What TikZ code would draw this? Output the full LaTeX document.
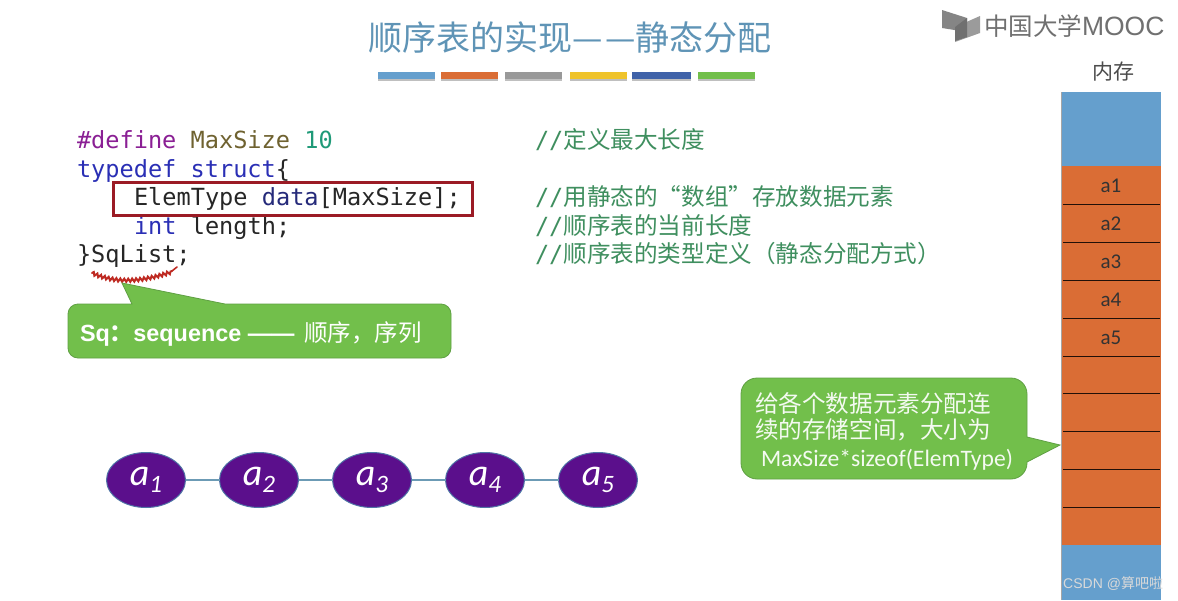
\documentclass[tikz,border=0pt]{standalone}
\usepackage{fontspec}
\usetikzlibrary{shapes.geometric,decorations.pathmorphing}
\setmainfont{Carlito}
\newfontfamily\cjk{Noto Sans CJK SC}
\newfontfamily\code{DejaVu Sans Mono}
\newfontfamily\arialb{Liberation Sans}
\definecolor{titlec}{HTML}{5F94B6}
\definecolor{memblue}{HTML}{659FCD}
\definecolor{memorange}{HTML}{DA6D35}
\definecolor{cgreen}{HTML}{72BF4B}
\definecolor{cgreenb}{HTML}{5FA043}
\definecolor{cmt}{HTML}{3F8F5F}
\definecolor{kwblue}{HTML}{2A2FB5}
\definecolor{kwpurple}{HTML}{8A1F94}
\definecolor{olive}{HTML}{6F6230}
\definecolor{num}{HTML}{1F9A78}
\definecolor{navy}{HTML}{252A7A}
\definecolor{boxred}{HTML}{9B1B25}
\definecolor{squig}{HTML}{BE2A22}
\definecolor{oval}{HTML}{5B0F8C}
\definecolor{ovalb}{HTML}{4F74A6}
\definecolor{linkc}{HTML}{6C9BB5}
\definecolor{logoc}{HTML}{707070}
\definecolor{baryellow}{HTML}{EFC32B}
\definecolor{barblue}{HTML}{3F62A8}
\tikzset{
 every node/.style={inner sep=0pt,outer sep=0pt},
 codeline/.style={anchor=base west,font=\code\fontsize{23.6}{28}\selectfont,text=black!85},
 cmtline/.style={anchor=base west,text=cmt,font=\code\fontsize{23.6}{28}\selectfont},
 oval/.style={ellipse,draw=ovalb,line width=1pt,fill=oval,minimum width=79pt,minimum height=55pt,text=white,font=\fontsize{38}{40}\selectfont\itshape},
 link/.style={draw=linkc,line width=1.8pt},
 memsep/.style={draw=black!85!memorange,line width=1pt},
 memlabel/.style={text=black!80,font=\fontsize{21}{24}\selectfont},
 callout/.style={fill=cgreen,draw=cgreenb,line width=.8pt},
}
\begin{document}
\begin{tikzpicture}[x=1pt,y=-1pt]
\useasboundingbox[fill=white] (0,0) rectangle (1178,600);

% title
\node[text=titlec,font=\cjk\fontsize{34}{36}\selectfont] (title) at (570,38) {顺序表的实现—\kern3pt—静态分配};
\foreach \n/\a/\b/\c in {b1/378/435/memblue,b2/441/498/memorange,b3/505/562/black!40,b4/570/627/baryellow,b5/632/691/barblue,b6/698/755/cgreen}{
  \fill[black!25] (\a,74) rectangle (\b,81);
  \fill[\c] (\a,72) rectangle (\b,79);
}

% logo
\fill[logoc!85] (942,10) -- (967,18) -- (967,32) -- (942,28) -- cycle;
\fill[logoc!70] (955,27) -- (980,16) -- (980,33) -- (955,42) -- cycle;
\fill[logoc] (955,27) -- (967,18) -- (967,37) -- (955,41) -- cycle;
\node[anchor=west,text=logoc,font=\cjk\fontsize{24.5}{26}\selectfont] (logo) at (984,26) {中国大学\arialb\fontsize{26.5}{30}\selectfont MOOC};

% code
\node[codeline] (l1) at (77,148) {{\color{kwpurple}\#define} {\color{olive}MaxSize} {\color{num}10}};
\node[codeline] (l2) at (77,177) {{\color{kwblue}typedef struct}\{};
\node[codeline] (l3) at (134,205.5) {ElemType {\color{navy}data}[MaxSize];};
\node[codeline] (l4) at (134,234) {{\color{kwblue}int} length;};
\node[codeline] (l5) at (77,262) {\}SqList;};
\node[cmtline] (c1) at (535,148) {//{\cjk 定义最大长度}};
\node[cmtline] (c3) at (535,205.5) {//{\cjk 用静态的“数组”存放数据元素}};
\node[cmtline] (c4) at (535,234) {//{\cjk 顺序表的当前长度}};
\node[cmtline] (c5) at (535,262) {//{\cjk 顺序表的类型定义（静态分配方式）}};

\node[draw=boxred,line width=3pt,minimum width=359pt,minimum height=33pt,anchor=north west] (hl) at (113,182) {};

% squiggle
\draw[squig,line width=2pt,line cap=round,decorate,decoration={snake,amplitude=1.6pt,segment length=4pt}]
  (92,273) .. controls (110,281) and (135,284) .. (172,271);
\draw[squig,line width=1.6pt,line cap=round] (172,271) -- (177,267);

% callout 1
\path[callout] (122,283) -- (225,304) [rounded corners=10pt] -- (451,304) -- (451,358) -- (68,358) -- (68,304) -- (100,304) [sharp corners] -- (132,304) -- cycle;
\node[anchor=base west,text=white,font=\arialb\bfseries\fontsize{23.4}{24}\selectfont] (sq) at (80,341) {Sq{\cjk\bfseries\fontsize{23.5}{24}\selectfont ：}sequence —— \kern3pt{\cjk\mdseries\fontsize{23.5}{24}\selectfont 顺序，序列}};

% ovals
\foreach \n/\x/\i in {a1/146/1,a2/259/2,a3/372/3,a4/485/4,a5/598/5}
  \node[oval] (\n) at (\x,480) {\raisebox{-6pt}{a\raisebox{-7pt}{\fontsize{25}{26}\selectfont\i}}};
\draw[link] (a1) -- (a2);
\draw[link] (a2) -- (a3);
\draw[link] (a3) -- (a4);
\draw[link] (a4) -- (a5);

% memory
\node[text=black!70,font=\cjk\fontsize{21}{24}\selectfont] (memt) at (1113,72) {内存};
\fill[memblue] (1062,92) rectangle (1161,166);
\fill[memorange] (1062,166) rectangle (1161,545);
\fill[memblue] (1062,545) rectangle (1161,600);
\draw[black!35,line width=.6pt] (1061.5,92) -- (1061.5,600);
\foreach \y in {204,242,280,318,356,393.5,431.5,469.5,507}
  \draw[memsep] (1063,\y) -- (1160,\y);
\node[memlabel] (m1) at (1111,186) {a1};
\node[memlabel] (m2) at (1111,224) {a2};
\node[memlabel] (m3) at (1111,262) {a3};
\node[memlabel] (m4) at (1111,300) {a4};
\node[memlabel] (m5) at (1111,338) {a5};

% callout 2
\path[callout] (1060,445) -- (1027,462) [rounded corners=16pt] -- (1027,479) -- (741,479) -- (741,378) -- (1027,378) -- (1027,415) [sharp corners] -- (1027,437) -- cycle;
\node[anchor=base west,text=white!92!cgreen,font=\cjk\fontsize{23.6}{26}\selectfont] (t1) at (755,412) {给各个数据元素分配连};
\node[anchor=base west,text=white!92!cgreen,font=\cjk\fontsize{23.6}{26}\selectfont] (t2) at (755,438.5) {续的存储空间，大小为};
\node[anchor=base west,text=white!92!cgreen,font=\fontsize{23.6}{26}\selectfont] (t3) at (761,466) {MaxSize*sizeof(ElemType)};

% watermark
\node[anchor=base east,text=white!85!black,font=\arialb\fontsize{14}{16}\selectfont] (wm) at (1163,588) {CSDN @{\cjk 算吧啦}};
\end{tikzpicture}
\end{document}
